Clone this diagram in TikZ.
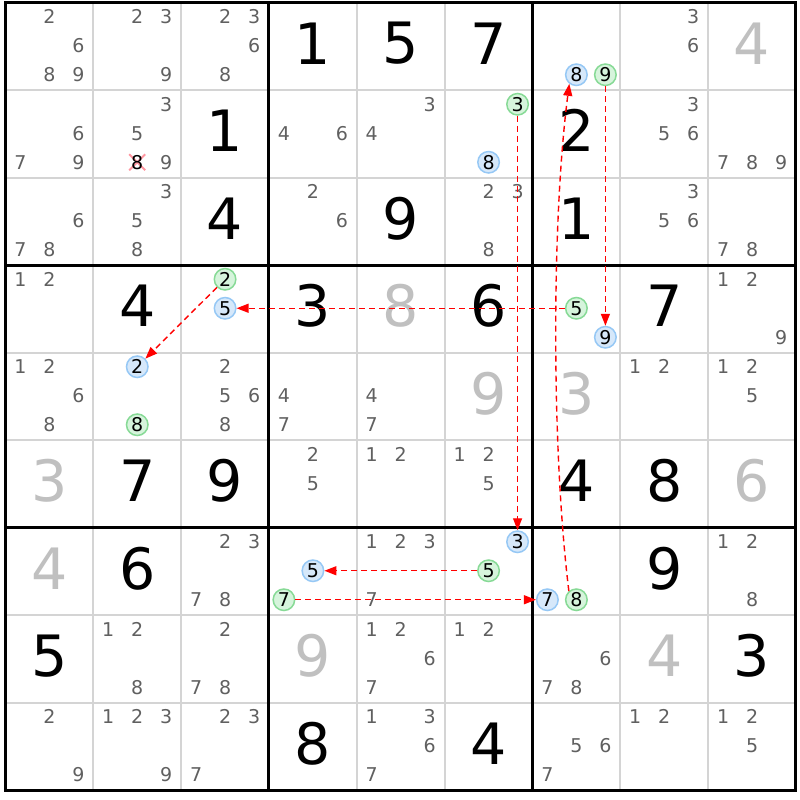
\documentclass[tikz,border=0pt]{standalone}
\usepackage{fontspec}
\setmainfont{DejaVu Sans}
\usetikzlibrary{arrows.meta}
\definecolor{pencilc}{RGB}{96,96,96}
\definecolor{solvedc}{RGB}{192,192,192}
\definecolor{gridc}{RGB}{212,212,212}
\definecolor{bluef}{RGB}{214,232,250}
\definecolor{bluel}{RGB}{150,200,245}
\definecolor{greenf}{RGB}{214,244,220}
\definecolor{greenl}{RGB}{135,218,150}
\definecolor{elimc}{RGB}{255,150,160}
\tikzset{
 given/.style={inner sep=0pt, font=\fontsize{57}{60}\selectfont, text=black},
 solved/.style={given, text=solvedc},
 pencil/.style={inner sep=0pt, font=\fontsize{19}{20}\selectfont, text=pencilc},
 elimd/.style={pencil, text=black},
 candb/.style={circle, draw=bluel, fill=bluef, line width=1.5pt, minimum size=21.5pt, inner sep=0pt, font=\fontsize{19}{20}\selectfont, text=black},
 candg/.style={candb, draw=greenl, fill=greenf},
 link/.style={draw=red, line width=1.4pt, dash pattern=on 6pt off 4pt, -{Triangle[length=12pt,width=9pt]}},
 thinl/.style={draw=gridc, line width=2pt},
 thickl/.style={draw=black, line width=3pt, line cap=rect},
 crossl/.style={draw=elimc, line width=2pt},
}
\newcommand\BigDig[4]{\node[#4] (n#1#2) at ({5.5+87.83*(#2-0.5)},{2.5+87.5*(#1-0.5)-3}) {#3};}
\newcommand\Pen[3]{\foreach \dg in {#3}{\node[pencil] (p#1#2\dg) at ({5.5+87.83*(#2-0.5)+29*(mod(\dg-1,3)-1)},{2.5+87.5*(#1-0.5)-0.5+29*(floor((\dg-1)/3)-1)}) {\dg};}}
\newcommand\Cand[4]{\node[#4] (c#1#2#3) at ({5.5+87.83*(#2-0.5)+29*(mod(#3-1,3)-1)},{2.5+87.5*(#1-0.5)-0.5+29*(floor((#3-1)/3)-1)}) {#3};}
\begin{document}
\begin{tikzpicture}[x=1pt,y=-1pt]
\useasboundingbox (0,0) rectangle (800,800);
\fill[white] (0,0) rectangle (800,800);
% thin grid lines
\foreach \i in {1,2,4,5,7,8}{
 \draw[thinl] ({5.5+87.83*\i},2.5) -- ({5.5+87.83*\i},790);
 \draw[thinl] (5.5,{2.5+87.5*\i}) -- (795.97,{2.5+87.5*\i});
}
% thick box lines
\foreach \i in {0,3,6,9}{
 \draw[thickl] ({5.5+87.83*\i},2.5) -- ({5.5+87.83*\i},790);
 \draw[thickl] (5.5,{2.5+87.5*\i}) -- (795.97,{2.5+87.5*\i});
}
% row 1
\Pen{1}{1}{2,6,8,9}
\Pen{1}{2}{2,3,9}
\Pen{1}{3}{2,3,6,8}
\BigDig{1}{4}{1}{given}
\BigDig{1}{5}{5}{given}
\BigDig{1}{6}{7}{given}
\Cand{1}{7}{8}{candb}
\Cand{1}{7}{9}{candg}
\Pen{1}{8}{3,6}
\BigDig{1}{9}{4}{solved}
% row 2
\Pen{2}{1}{6,7,9}
\Pen{2}{2}{3,5,9}
\draw[crossl] ({5.5+87.83*1.5-8},{2.5+87.5*1.5-0.5+29-8}) -- ({5.5+87.83*1.5+8},{2.5+87.5*1.5-0.5+29+8});
\draw[crossl] ({5.5+87.83*1.5-8},{2.5+87.5*1.5-0.5+29+8}) -- ({5.5+87.83*1.5+8},{2.5+87.5*1.5-0.5+29-8});
\node[elimd] (x228) at ({5.5+87.83*1.5},{2.5+87.5*1.5-0.5+29}) {8};
\BigDig{2}{3}{1}{given}
\Pen{2}{4}{4,6}
\Pen{2}{5}{3,4}
\Cand{2}{6}{3}{candg}
\Cand{2}{6}{8}{candb}
\BigDig{2}{7}{2}{given}
\Pen{2}{8}{3,5,6}
\Pen{2}{9}{7,8,9}
% row 3
\Pen{3}{1}{6,7,8}
\Pen{3}{2}{3,5,8}
\BigDig{3}{3}{4}{given}
\Pen{3}{4}{2,6}
\BigDig{3}{5}{9}{given}
\Pen{3}{6}{2,3,8}
\BigDig{3}{7}{1}{given}
\Pen{3}{8}{3,5,6}
\Pen{3}{9}{7,8}
% row 4
\Pen{4}{1}{1,2}
\BigDig{4}{2}{4}{given}
\Cand{4}{3}{2}{candg}
\Cand{4}{3}{5}{candb}
\BigDig{4}{4}{3}{given}
\BigDig{4}{5}{8}{solved}
\BigDig{4}{6}{6}{given}
\Cand{4}{7}{5}{candg}
\Cand{4}{7}{9}{candb}
\BigDig{4}{8}{7}{given}
\Pen{4}{9}{1,2,9}
% row 5
\Pen{5}{1}{1,2,6,8}
\Cand{5}{2}{2}{candb}
\Cand{5}{2}{8}{candg}
\Pen{5}{3}{2,5,6,8}
\Pen{5}{4}{4,7}
\Pen{5}{5}{4,7}
\BigDig{5}{6}{9}{solved}
\BigDig{5}{7}{3}{solved}
\Pen{5}{8}{1,2}
\Pen{5}{9}{1,2,5}
% row 6
\BigDig{6}{1}{3}{solved}
\BigDig{6}{2}{7}{given}
\BigDig{6}{3}{9}{given}
\Pen{6}{4}{2,5}
\Pen{6}{5}{1,2}
\Pen{6}{6}{1,2,5}
\BigDig{6}{7}{4}{given}
\BigDig{6}{8}{8}{given}
\BigDig{6}{9}{6}{solved}
% row 7
\BigDig{7}{1}{4}{solved}
\BigDig{7}{2}{6}{given}
\Pen{7}{3}{2,3,7,8}
\Cand{7}{4}{5}{candb}
\Cand{7}{4}{7}{candg}
\Pen{7}{5}{1,2,3,7}
\Cand{7}{6}{3}{candb}
\Cand{7}{6}{5}{candg}
\Cand{7}{7}{7}{candb}
\Cand{7}{7}{8}{candg}
\BigDig{7}{8}{9}{given}
\Pen{7}{9}{1,2,8}
% row 8
\BigDig{8}{1}{5}{given}
\Pen{8}{2}{1,2,8}
\Pen{8}{3}{2,7,8}
\BigDig{8}{4}{9}{solved}
\Pen{8}{5}{1,2,6,7}
\Pen{8}{6}{1,2}
\Pen{8}{7}{6,7,8}
\BigDig{8}{8}{4}{solved}
\BigDig{8}{9}{3}{given}
% row 9
\Pen{9}{1}{2,9}
\Pen{9}{2}{1,2,3,9}
\Pen{9}{3}{2,3,7}
\BigDig{9}{4}{8}{given}
\Pen{9}{5}{1,3,6,7}
\BigDig{9}{6}{4}{given}
\Pen{9}{7}{5,6,7}
\Pen{9}{8}{1,2}
\Pen{9}{9}{1,2,5}
% chain links
\draw[link] (c263) -- (c763);
\draw[link] (c765) -- (c745);
\draw[link] (c747) -- (c777);
\draw[link] (c778.131) .. controls (551.5,450) and (551.5,220) .. (c178.232);
\draw[link] (c179) -- (c479);
\draw[link] (c475) -- (c435);
\draw[link] (c432) -- (c522);
\end{tikzpicture}
\end{document}
